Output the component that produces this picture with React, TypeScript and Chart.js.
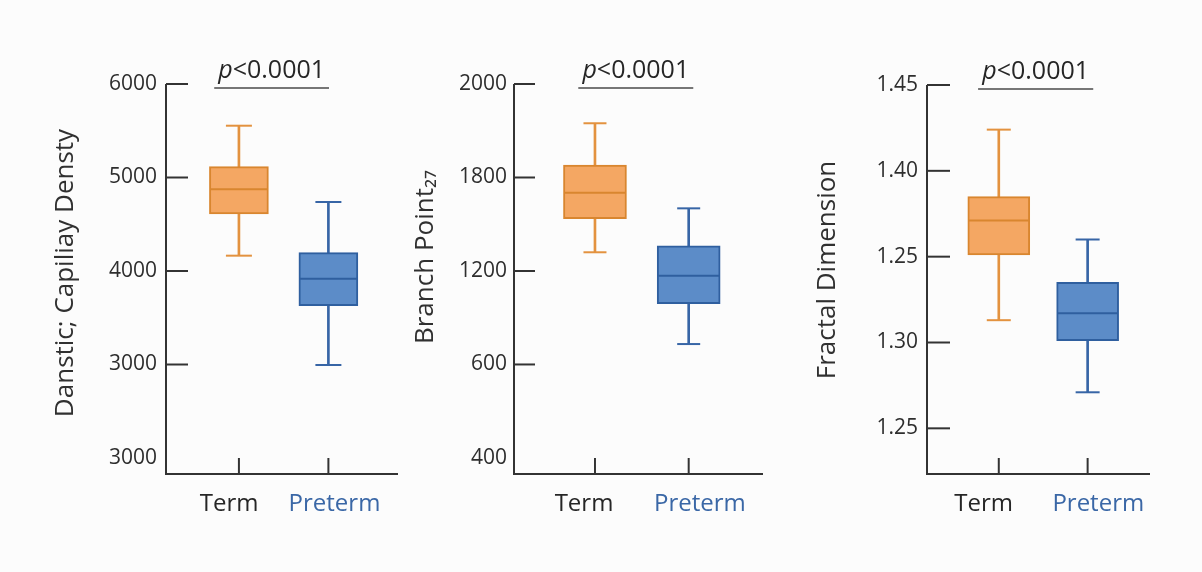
import { useEffect, useRef } from 'react';
import { Chart, registerables } from 'chart.js';

Chart.register(...registerables);

// ---------- data ----------
const groups = ['Term', 'Preterm'];
const groupX = [0, 1];

// box statistics: [min, q1, median, q3, max]
const capillaryTerm = [4164, 4610, 4874, 5116, 5554];
const capillaryPreterm = [2995, 3629, 3918, 4196, 4738];
const capillaryTickValues = [2000, 3000, 4000, 5000, 6000];
const capillaryTickLabels = ['3000', '3000', '4000', '5000', '6000'];

const branchTerm = [1320, 1536, 1702, 1880, 2148];
const branchPreterm = [731, 990, 1170, 1362, 1602];
const branchTickValues = [0, 600, 1200, 1800, 2400];
const branchTickLabels = ['400', '600', '1200', '1800', '2000'];

const fractalTerm = [1.313, 1.351, 1.371, 1.385, 1.424];
const fractalPreterm = [1.271, 1.301, 1.317, 1.335, 1.36];
const fractalTickValues = [1.25, 1.3, 1.35, 1.4, 1.45];
const fractalTickLabels = ['1.25', '1.30', '1.25', '1.40', '1.45'];

const pItalic = 'p';
const pRest = '<0.0001';

// ---------- styles ----------
const FONT = '"Open Sans", "Noto Sans", sans-serif';
const AXIS = '#333333';
const TEXT = '#262626';
const PRETERM_TEXT = '#3a67a6';
const FILLS = ['#f4a763', '#5c8cc8'];
const BORDERS = ['#d9862f', '#2f5f9f'];
const WHISKERS = ['#e3923f', '#3765a6'];
const H = 572;
const AREA_BOTTOM = 474;

const panels = [
  {
    title: 'Danstic; Capiliay Densty',
    term: capillaryTerm, preterm: capillaryPreterm,
    tickValues: capillaryTickValues, tickLabels: capillaryTickLabels,
    yMin: 1829, yMax: 6000,
    left: 0, width: 400, areaLeft: 166, areaRight: 398, top: 84,
    xMin: -0.815, xMax: 1.778, labelPos: [-0.11, 1.068], bracket: [-0.276, 1.007],
    titleX: 66, titleY: 273, boxWidth: 59, capWidth: 26, tickLen: 22, hideTick: [0], tickPad: 9,
  },
  {
    title: 'Branch Point\u2082\u2087',
    term: branchTerm, preterm: branchPreterm,
    tickValues: branchTickValues, tickLabels: branchTickLabels,
    yMin: -103, yMax: 2400,
    left: 400, width: 370, areaLeft: 114, areaRight: 363, top: 84,
    xMin: -0.864, xMax: 1.793, labelPos: [-0.117, 1.12], bracket: [-0.178, 1.049],
    titleX: 26, titleY: 257, boxWidth: 63, capWidth: 23, tickLen: 21, hideTick: [0], tickPad: 7,
  },
  {
    title: 'Fractal Dimension',
    term: fractalTerm, preterm: fractalPreterm,
    tickValues: fractalTickValues, tickLabels: fractalTickLabels,
    yMin: 1.2234, yMax: 1.45,
    left: 770, width: 432, areaLeft: 157, areaRight: 380, top: 85,
    xMin: -0.808, xMax: 1.702, labelPos: [-0.171, 1.12], bracket: [-0.233, 1.063],
    titleX: 58, titleY: 270, boxWidth: 62, capWidth: 24, tickLen: 23, hideTick: [] as number[], tickPad: 9,
  },
];

type PanelCfg = (typeof panels)[number];

function Panel({ cfg }: { cfg: PanelCfg }) {
  const ref = useRef<HTMLCanvasElement>(null);

  useEffect(() => {
    const stats = [cfg.term, cfg.preterm];
    const decor = {
      id: 'decor',
      afterDraw(chart: any) {
        const { ctx, chartArea: a, scales } = chart;
        const xs = scales.x;
        const ys = scales.y;
        ctx.save();
        // axes
        ctx.strokeStyle = AXIS;
        ctx.lineWidth = 2;
        ctx.beginPath();
        ctx.moveTo(a.left, a.top);
        ctx.lineTo(a.left, a.bottom);
        ctx.lineTo(a.right, a.bottom);
        ctx.stroke();
        // inward y tick marks
        ys.ticks.forEach((t: any, i: number) => {
          if (cfg.hideTick.includes(i)) return;
          const py = ys.getPixelForValue(t.value);
          ctx.beginPath();
          ctx.moveTo(a.left, py);
          ctx.lineTo(a.left + cfg.tickLen, py);
          ctx.stroke();
        });
        // inward x tick marks at group positions
        groupX.forEach((v) => {
          const px = xs.getPixelForValue(v);
          ctx.beginPath();
          ctx.moveTo(px, a.bottom);
          ctx.lineTo(px, a.bottom - 16);
          ctx.stroke();
        });
        // significance bracket
        const bx0 = xs.getPixelForValue(cfg.bracket[0]);
        const bx1 = xs.getPixelForValue(cfg.bracket[1]);
        ctx.strokeStyle = '#4a4a4a';
        ctx.lineWidth = 1.6;
        ctx.beginPath();
        ctx.moveTo(bx0, a.top + 4);
        ctx.lineTo(bx1, a.top + 4);
        ctx.stroke();
        ctx.fillStyle = TEXT;
        ctx.textBaseline = 'alphabetic';
        ctx.textAlign = 'left';
        ctx.font = `italic 25px ${FONT}`;
        const w1 = ctx.measureText(pItalic).width;
        ctx.font = `25px ${FONT}`;
        const w2 = ctx.measureText(pRest).width;
        const start = (bx0 + bx1) / 2 - (w1 + w2) / 2;
        ctx.font = `italic 25px ${FONT}`;
        ctx.fillText(pItalic, start, a.top - 6);
        ctx.font = `25px ${FONT}`;
        ctx.fillText(pRest, start + w1, a.top - 6);
        // axis title
        ctx.translate(cfg.titleX, cfg.titleY);
        ctx.rotate(-Math.PI / 2);
        ctx.font = `26px ${FONT}`;
        ctx.fillStyle = '#303030';
        ctx.textAlign = 'center';
        ctx.textBaseline = 'middle';
        ctx.fillText(cfg.title, 0, 0);
        ctx.restore();
      },
    };

    const chart = new Chart(ref.current!, {
      type: 'bar',
      data: {
        datasets: [
          {
            type: 'bar',
            data: groupX.map((x, i) => ({ x, y: [stats[i][0], stats[i][4]] })) as any,
            backgroundColor: WHISKERS,
            barThickness: 2,
            grouped: false,
            order: 3,
          } as any,
          {
            type: 'bar',
            data: groupX.map((x, i) => ({ x, y: [stats[i][1], stats[i][3]] })) as any,
            backgroundColor: FILLS,
            borderColor: BORDERS,
            borderWidth: 2,
            borderSkipped: false,
            barThickness: cfg.boxWidth,
            grouped: false,
            order: 2,
          } as any,
          {
            type: 'line',
            data: groupX.flatMap((x, i) => [
              { x, y: stats[i][0] },
              { x, y: stats[i][4] },
            ]) as any,
            showLine: false,
            pointStyle: 'line',
            pointRadius: cfg.capWidth / 2,
            pointHoverRadius: cfg.capWidth / 2,
            pointBorderWidth: 2,
            pointBorderColor: [WHISKERS[0], WHISKERS[0], WHISKERS[1], WHISKERS[1]],
            order: 1,
          } as any,
          {
            type: 'line',
            data: groupX.map((x, i) => ({ x, y: stats[i][2] })) as any,
            showLine: false,
            pointStyle: 'line',
            pointRadius: cfg.boxWidth / 2 - 1,
            pointHoverRadius: cfg.boxWidth / 2 - 1,
            pointBorderWidth: 2,
            pointBorderColor: BORDERS,
            order: 0,
          } as any,
        ],
      },
      options: {
        animation: false,
        responsive: true,
        maintainAspectRatio: false,
        events: [],
        layout: {
          autoPadding: false,
          padding: { top: cfg.top, left: 0, bottom: 0, right: cfg.width - cfg.areaRight },
        },
        plugins: {
          legend: { display: false },
          tooltip: { enabled: false },
        },
        scales: {
          x: {
            type: 'linear',
            offset: false,
            min: cfg.xMin,
            max: cfg.xMax,
            grid: { display: false, drawTicks: false, offset: false },
            border: { display: false },
            afterBuildTicks: (s: any) => {
              s.ticks = cfg.labelPos.map((v) => ({ value: v }));
            },
            afterFit: (s: any) => {
              s.height = H - AREA_BOTTOM;
              s.paddingLeft = 0;
              s.paddingRight = 0;
            },
            ticks: {
              autoSkip: false,
              maxRotation: 0,
              padding: 16,
              font: { family: FONT, size: 24 },
              color: (ctx: any) => (ctx.index === 0 ? TEXT : PRETERM_TEXT),
              callback: (_v: any, i: number) => groups[i],
            },
          },
          y: {
            type: 'linear',
            min: cfg.yMin,
            max: cfg.yMax,
            grid: { display: false, drawTicks: false },
            border: { display: false },
            afterBuildTicks: (s: any) => {
              s.ticks = cfg.tickValues.map((v) => ({ value: v }));
            },
            afterFit: (s: any) => {
              s.width = cfg.areaLeft;
              s.paddingTop = 0;
              s.paddingBottom = 0;
            },
            ticks: {
              autoSkip: false,
              padding: cfg.tickPad,
              font: { family: FONT, size: 21 },
              color: '#2e2e2e',
              callback: (_v: any, i: number) => cfg.tickLabels[i],
            },
          },
        },
      },
      plugins: [decor],
    });
    return () => chart.destroy();
  }, [cfg]);

  return (
    <div style={{ position: 'absolute', left: cfg.left, top: 0, width: cfg.width, height: H }}>
      <canvas ref={ref} />
    </div>
  );
}

export default function App() {
  return (
    <div
      style={{
        position: 'absolute',
        left: 0,
        top: 0,
        width: 1202,
        height: H,
        background: '#fcfcfc',
        overflow: 'hidden',
      }}
    >
      {panels.map((p, i) => (
        <Panel key={i} cfg={p} />
      ))}
    </div>
  );
}
